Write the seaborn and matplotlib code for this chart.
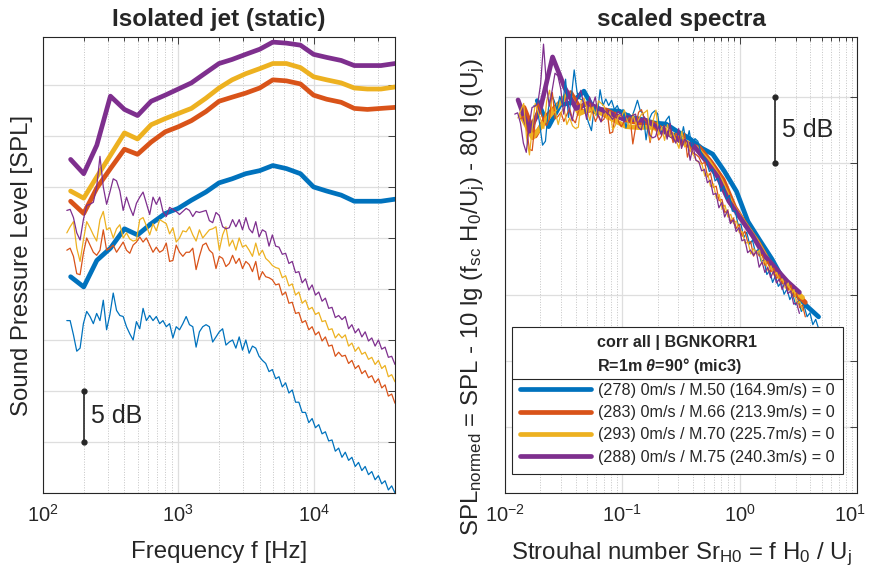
import numpy as np
import matplotlib
matplotlib.use("Agg")
import matplotlib.pyplot as plt
import seaborn as sns
from matplotlib.lines import Line2D
from matplotlib.transforms import ScaledTranslation
from matplotlib.ticker import LogLocator, MultipleLocator, NullFormatter

# ---- data (levels in dB, arbitrary reference) ----
# third-octave band centres [Hz]
band_freq = [160, 200, 250, 315, 400, 500, 630, 800, 1000, 1250, 1600, 2000,
             2500, 3150, 4000, 5000, 6300, 8000, 10000, 12500, 16000, 20000,
             25000, 31500, 40000]

third_m50 = [21.2, 20.2, 22.8, 24.0, 25.9, 25.3, 26.4, 27.4, 27.9, 28.7, 29.5, 30.4,
             30.8, 31.3, 31.6, 32.1, 31.8, 31.3, 30.0, 29.6, 29.2, 28.6, 28.6, 28.6, 28.8]
third_m66 = [28.6, 27.4, 29.9, 31.8, 33.7, 33.2, 34.4, 35.4, 35.9, 36.5, 37.4, 38.4,
             38.8, 39.2, 39.7, 40.5, 40.4, 40.1, 39.0, 38.6, 38.3, 37.7, 37.6, 37.7, 37.8]
third_m70 = [29.6, 28.9, 31.0, 33.1, 35.3, 34.7, 36.1, 36.7, 37.2, 37.7, 38.7, 39.7,
             40.5, 41.1, 41.6, 42.1, 42.1, 41.7, 40.8, 40.5, 40.2, 39.7, 39.6, 39.6, 39.8]
third_m75 = [32.7, 31.3, 34.1, 38.9, 37.6, 37.0, 38.4, 39.0, 39.6, 40.2, 41.2, 42.1,
             42.5, 43.0, 43.5, 44.2, 44.1, 43.9, 43.0, 42.7, 42.4, 41.9, 41.9, 41.9, 42.1]

# narrowband spectra sampled on a log grid 150 Hz .. 40 kHz (100 points)
nb_freq = np.geomspace(150, 40000, 100)

nb_m50 = [16.9, 16.9, 15.5, 13.9, 14.2, 16.6, 17.8, 17.3, 16.6, 17.6,
          16.9, 18.9, 16.0, 17.5, 19.6, 17.9, 17.4, 17.3, 16.3, 15.6,
          15.0, 16.8, 16.1, 18.1, 16.9, 17.4, 16.9, 17.3, 16.6, 16.9,
          16.3, 16.6, 15.2, 16.3, 16.0, 16.6, 17.3, 16.5, 16.3, 14.3,
          15.8, 16.3, 16.5, 16.3, 14.8, 15.3, 15.8, 16.1, 14.5, 14.8,
          15.0, 14.2, 15.3, 14.0, 15.0, 13.7, 14.4, 14.2, 13.4, 13.0,
          12.7, 11.9, 12.1, 11.2, 11.4, 10.4, 10.8, 9.8, 10.1, 8.9,
          8.9, 7.9, 7.9, 6.9, 7.3, 6.4, 6.7, 5.8, 6.0, 5.1,
          5.2, 4.1, 4.4, 3.5, 4.0, 3.2, 3.5, 2.6, 3.0, 2.2,
          2.6, 1.8, 2.1, 1.3, 1.7, 0.9, 1.2, 0.3, 0.7, 0.0]
nb_m66 = [23.8, 24.0, 23.2, 21.5, 21.4, 23.5, 25.0, 24.3, 23.6, 23.3,
          23.8, 25.8, 23.8, 24.0, 24.3, 23.6, 24.1, 24.6, 23.8, 23.5,
          24.3, 24.6, 25.1, 24.6, 25.0, 24.3, 23.6, 24.1, 23.6, 23.8,
          24.5, 22.7, 22.8, 24.3, 23.6, 23.2, 23.6, 23.6, 24.0, 21.9,
          23.2, 24.3, 24.5, 23.8, 23.5, 22.0, 23.2, 23.0, 22.2, 22.5,
          23.3, 22.5, 23.0, 22.0, 22.7, 22.4, 21.7, 22.7, 20.9, 21.7,
          21.2, 21.1, 20.9, 20.4, 20.5, 19.4, 19.7, 18.6, 18.7, 17.6,
          17.7, 16.7, 16.9, 16.0, 16.3, 15.5, 15.8, 14.9, 15.3, 14.4,
          14.5, 13.4, 13.8, 13.4, 13.5, 12.7, 13.0, 12.2, 12.5, 11.7,
          12.0, 11.3, 11.5, 10.8, 11.2, 10.3, 10.6, 9.5, 9.7, 8.8]
nb_m70 = [25.5, 26.1, 26.6, 24.0, 22.7, 24.8, 26.6, 26.0, 25.3, 24.7,
          26.8, 27.6, 25.8, 26.0, 25.0, 25.9, 26.3, 25.0, 25.5, 24.9,
          24.7, 24.8, 26.8, 27.0, 26.2, 25.3, 26.4, 25.7, 26.8, 26.6,
          26.4, 25.4, 26.0, 24.6, 25.0, 25.7, 25.6, 26.1, 25.3, 24.7,
          25.8, 25.0, 25.4, 25.8, 25.9, 26.1, 23.8, 25.3, 26.1, 24.2,
          24.8, 23.8, 25.0, 24.1, 24.3, 23.8, 23.2, 24.5, 23.3, 23.8,
          23.0, 22.7, 22.3, 22.1, 22.0, 21.1, 21.3, 20.3, 20.5, 19.4,
          19.7, 18.6, 18.9, 18.0, 18.2, 17.5, 17.7, 16.8, 16.9, 16.0,
          16.1, 15.2, 15.6, 15.2, 15.5, 14.4, 14.7, 13.9, 14.3, 13.6,
          13.8, 13.1, 13.3, 12.6, 13.0, 12.2, 12.5, 11.4, 11.6, 10.9]
nb_m75 = [27.7, 27.8, 27.0, 25.5, 24.8, 26.8, 28.2, 28.3, 28.5, 30.0,
          33.0, 30.0, 28.3, 29.5, 30.8, 30.6, 29.6, 27.7, 29.0, 28.0,
          27.2, 28.4, 29.0, 29.5, 28.4, 27.3, 29.0, 28.3, 29.0, 27.6,
          27.1, 28.0, 27.8, 27.6, 27.3, 27.6, 27.9, 27.7, 27.1, 27.6,
          27.5, 27.6, 27.7, 26.7, 26.5, 27.5, 27.2, 26.1, 25.9, 26.0,
          26.8, 26.1, 26.8, 25.8, 27.0, 25.9, 25.5, 26.6, 25.1, 25.8,
          25.6, 24.2, 25.3, 24.2, 24.1, 23.4, 23.5, 22.5, 22.7, 21.6,
          21.7, 20.6, 21.0, 19.9, 20.4, 19.4, 19.7, 18.8, 19.1, 18.1,
          18.2, 17.2, 17.4, 17.0, 17.3, 16.1, 16.5, 15.7, 16.1, 15.3,
          15.8, 14.9, 15.2, 14.4, 15.0, 14.1, 14.3, 13.3, 13.4, 12.6]

jet_speed = [164.9, 213.9, 225.7, 240.3]      # U_j [m/s]
case_labels = ["(278) 0m/s / M.50 (164.9m/s) = 0",
               "(283) 0m/s / M.66 (213.9m/s) = 0",
               "(293) 0m/s / M.70 (225.7m/s) = 0",
               "(288) 0m/s / M.75 (240.3m/s) = 0"]
colors = ["#0072BD", "#D95319", "#EDB120", "#7E2F8E"]

H0 = 0.0194          # nozzle height [m]
df_nb = 15.0         # narrowband resolution [Hz]
bw_third = 0.2316    # third-octave bandwidth / centre frequency
norm_offset = 162.3  # arbitrary reference shift of the normalised level

thirds = [third_m50, third_m66, third_m70, third_m75]
narrow = [nb_m50, nb_m66, nb_m70, nb_m75]

# ---- figure ----
sns.set_style("white")
plt.rcParams["font.family"] = ["Liberation Sans", "DejaVu Sans"]
plt.rcParams["mathtext.fontset"] = "custom"
plt.rcParams["mathtext.rm"] = "Liberation Sans"
plt.rcParams["mathtext.it"] = "Liberation Sans:italic:bold"
plt.rcParams["mathtext.bf"] = "Liberation Sans:bold"
plt.rcParams["axes.unicode_minus"] = False
plt.rcParams["text.color"] = "#262626"

W, H = 871, 579
fig = plt.figure(figsize=(W / 100, H / 100), dpi=100)
axL = fig.add_axes([43 / W, 86 / H, 352 / W, 456 / H])
axR = fig.add_axes([505 / W, 86 / H, 352 / W, 456 / H])


def style(ax):
    ax.set_xscale("log")
    ax.xaxis.set_minor_locator(LogLocator(base=10, subs=range(2, 10), numticks=20))
    ax.xaxis.set_minor_formatter(NullFormatter())
    ax.yaxis.set_major_locator(MultipleLocator(5))
    ax.yaxis.set_major_formatter(NullFormatter())
    ax.tick_params(which="both", direction="in", top=True, right=True,
                   colors="#262626", labelsize=14.5, pad=8)
    ax.tick_params(which="major", length=5, width=0.6)
    ax.tick_params(which="minor", length=3, width=0.6)
    ax.grid(True, which="major", color="#dedede", lw=0.9)
    ax.grid(True, which="minor", axis="x", color="#c4c4c4", lw=0.7, ls=":")
    ax.set_axisbelow(True)
    for s in ax.spines.values():
        s.set_color("#262626")
        s.set_linewidth(0.8)


# left: raw spectra
for L, c in zip(thirds, colors):
    sns.lineplot(x=band_freq, y=L, ax=axL, color=c, lw=3.4, sort=False,
                 estimator=None, legend=False)
for L, c in zip(narrow, colors):
    sns.lineplot(x=nb_freq, y=L, ax=axL, color=c, lw=0.9, sort=False,
                 estimator=None, legend=False)
style(axL)
axL.set_xlim(100, 40000)
axL.set_ylim(0, 44.7)
axL.set_title("Isolated jet (static)", fontsize=17.5, fontweight="bold", pad=8)
axL.set_xlabel("Frequency f [Hz]", fontsize=17.3)
axL.set_ylabel("Sound Pressure Level [SPL]", fontsize=17.3)
axL.xaxis.set_label_coords(0.5, -0.105)
axL.yaxis.set_label_coords(-0.028, 0.5)
axL.plot([201, 201], [5, 10], color="#262626", lw=1.2, marker="o", ms=3.5)
axL.text(228, 7.5, "5 dB", fontsize=18, va="center", ha="left")

# right: scaled spectra
bf = np.asarray(band_freq, float)
for L, U, c in zip(thirds, jet_speed, colors):
    st = bf * H0 / U
    norm = np.asarray(L) - 10 * np.log10(bw_third * st) - 80 * np.log10(U) + norm_offset
    sns.lineplot(x=st, y=norm, ax=axR, color=c, lw=3.4, sort=False,
                 estimator=None, legend=False)
for L, U, c in zip(narrow, jet_speed, colors):
    st = nb_freq * H0 / U
    norm = np.asarray(L) - 10 * np.log10(df_nb * H0 / U) - 80 * np.log10(U) + norm_offset
    sns.lineplot(x=st, y=norm, ax=axR, color=c, lw=0.9, sort=False,
                 estimator=None, legend=False)
style(axR)
axR.set_xlim(0.01, 10)
axR.set_ylim(0, 34.55)
axR.set_title("scaled spectra", fontsize=17.5, fontweight="bold", pad=8)
axR.set_xlabel(r"Strouhal number Sr$_{\mathregular{H0}}$ = f H$_{\mathregular{0}}$ / U$_{\mathregular{j}}$",
               fontsize=17.3)
axR.set_ylabel(r"SPL$_{\mathregular{normed}}$ = SPL - 10 lg (f$_{\mathregular{sc}}$ "
               r"H$_{\mathregular{0}}$/U$_{\mathregular{j}}$) - 80 lg (U$_{\mathregular{j}}$)",
               fontsize=17.3)
axR.xaxis.set_label_coords(0.5, -0.105)
axR.yaxis.set_label_coords(-0.05, 0.43)
axR.plot([2, 2], [25, 30], color="#262626", lw=1.2, marker="o", ms=3.5)
axR.text(2.3, 27.5, "5 dB", fontsize=18, va="center", ha="left")

handles = [Line2D([], [], color=c, lw=3.4) for c in colors]
leg = axR.legend(handles, case_labels,
                 title="corr all | BGNKORR1\nR=1m $\\theta$=90° (mic3)",
                 title_fontproperties={"weight": "bold", "size": 11.6},
                 fontsize=11.6, loc="lower center", bbox_to_anchor=(0.49, 0.025),
                 frameon=True, fancybox=False, framealpha=1, edgecolor="#262626",
                 handlelength=4.4, handletextpad=0.4, labelspacing=0.45,
                 borderpad=0.55)
leg.get_frame().set_linewidth(0.8)
leg.get_title().set_linespacing(1.35)

# separator between legend title and entries
fig.canvas.draw()
rend = fig.canvas.get_renderer()
tb = leg.get_title().get_window_extent(rend)
t0 = leg.get_texts()[0].get_window_extent(rend)
fb = leg.get_frame().get_window_extent(rend)
ysep = (tb.y0 + t0.y1) / 2 / H
fig.add_artist(Line2D([fb.x0 / W, fb.x1 / W], [ysep, ysep], transform=fig.transFigure,
                      color="#262626", lw=0.8))

# keep the last Strouhal tick label inside the figure
for t in axR.xaxis.get_major_ticks():
    if np.isclose(t.get_loc(), 10):
        t.label1.set_transform(t.label1.get_transform()
                               + ScaledTranslation(-5 / 72, 0, fig.dpi_scale_trans))

fig.savefig("out.png", dpi=100)
